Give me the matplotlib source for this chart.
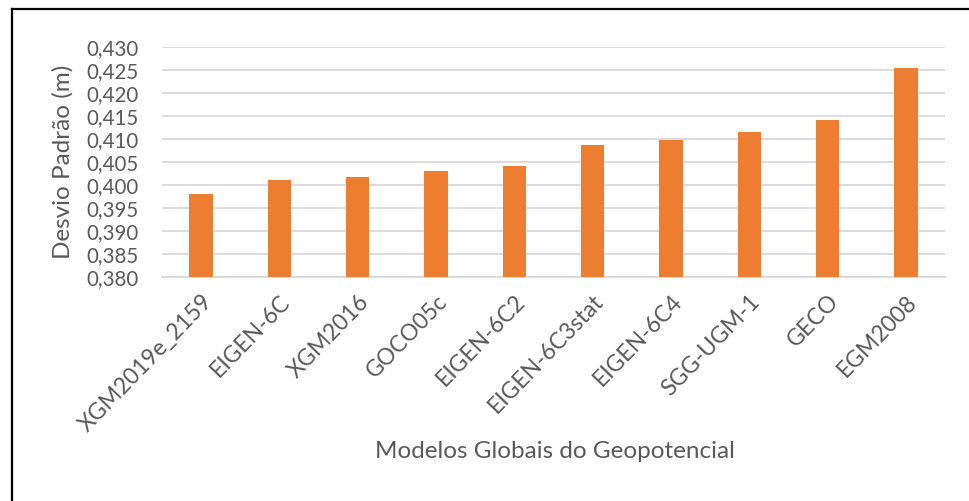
import matplotlib
matplotlib.use("Agg")
import matplotlib.pyplot as plt
from matplotlib.lines import Line2D
from matplotlib.ticker import FuncFormatter

categories = ["XGM2019e_2159", "EIGEN-6C", "XGM2016", "GOCO05c", "EIGEN-6C2",
              "EIGEN-6C3stat", "EIGEN-6C4", "SGG-UGM-1", "GECO", "EGM2008"]
values = [0.398, 0.401, 0.4018, 0.4031, 0.4041, 0.4088, 0.4097, 0.4115, 0.4141, 0.4254]
yticks = [0.380, 0.385, 0.390, 0.395, 0.400, 0.405, 0.410, 0.415, 0.420, 0.425, 0.430]

plt.rcParams['font.family'] = ['Lato', 'DejaVu Sans']
txt = '#595959'

fig = plt.figure(figsize=(9.70, 5.01), dpi=100)
ax = fig.add_axes([162/970, 1-277/501, (945-162)/970, (277-47)/501])

x = list(range(len(categories)))
ax.bar(x, values, width=0.3, color='#ED7D31', zorder=3)
ax.set_xlim(-0.5, len(categories)-0.5)
ax.set_ylim(0.380, 0.430)
ax.set_yticks(yticks)
ax.yaxis.set_major_formatter(FuncFormatter(lambda v, p: f"{v:.3f}".replace('.', ',')))
ax.grid(axis='y', color='#D9D9D9', linewidth=1.3, zorder=0)
for s in ['top', 'right', 'left']:
    ax.spines[s].set_visible(False)
ax.spines['bottom'].set_color('#D9D9D9')
ax.spines['bottom'].set_linewidth(1.3)
ax.tick_params(axis='both', length=0, colors=txt)
ax.tick_params(axis='y', pad=16.5, labelsize=14.8)
ax.set_xticks(x)
ax.set_xticklabels(categories, rotation=46, ha='right', va='top',
                   rotation_mode='anchor', fontsize=16.5)
ax.tick_params(axis='x', pad=10)

ax.set_ylabel('Desvio Padrão (m)', color=txt, fontsize=17.5, labelpad=9.5)
fig.text(555/970, 1-452/501, 'Modelos Globais do Geopotencial', color=txt,
         fontsize=17.5, ha='center', va='center')

# partial frame (top and left edges)
fig.add_artist(Line2D([12/970, 1], [1-9/501, 1-9/501], color='black', linewidth=1.6, transform=fig.transFigure))
fig.add_artist(Line2D([12/970, 12/970], [1-9/501, 0], color='black', linewidth=1.6, transform=fig.transFigure))

fig.savefig('out.png', dpi=100)
